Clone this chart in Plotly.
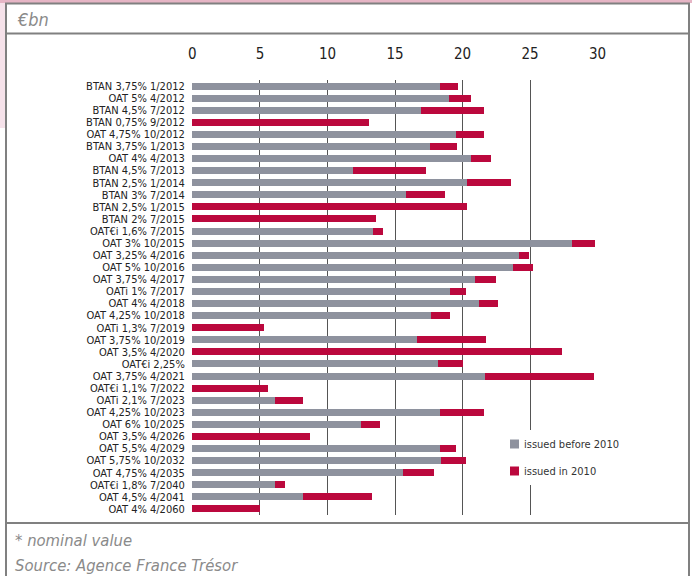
import plotly.graph_objects as go

# Outstanding bond lines, top to bottom
bonds = [
    "BTAN 3,75% 1/2012", "OAT 5% 4/2012", "BTAN 4,5% 7/2012", "BTAN 0,75% 9/2012",
    "OAT 4,75% 10/2012", "BTAN 3,75% 1/2013", "OAT 4% 4/2013", "BTAN 4,5% 7/2013",
    "BTAN 2,5% 1/2014", "BTAN 3% 7/2014", "BTAN 2,5% 1/2015", "BTAN 2% 7/2015",
    "OAT€i 1,6% 7/2015", "OAT 3% 10/2015", "OAT 3,25% 4/2016", "OAT 5% 10/2016",
    "OAT 3,75% 4/2017", "OATi 1% 7/2017", "OAT 4% 4/2018", "OAT 4,25% 10/2018",
    "OATi 1,3% 7/2019", "OAT 3,75% 10/2019", "OAT 3,5% 4/2020", "OAT€i 2,25%",
    "OAT 3,75% 4/2021", "OAT€i 1,1% 7/2022", "OATi 2,1% 7/2023", "OAT 4,25% 10/2023",
    "OAT 6% 10/2025", "OAT 3,5% 4/2026", "OAT 5,5% 4/2029", "OAT 5,75% 10/2032",
    "OAT 4,75% 4/2035", "OAT€i 1,8% 7/2040", "OAT 4,5% 4/2041", "OAT 4% 4/2060",
]

# Nominal amount issued before 2010 (€bn)
issued_before_2010 = [
    18.3, 19.0, 16.9, 0.0,
    19.5, 17.6, 20.6, 11.9,
    20.3, 15.8, 0.0, 0.0,
    13.4, 28.1, 24.2, 23.7,
    20.9, 19.1, 21.2, 17.7,
    0.0, 16.6, 0.0, 18.2,
    21.7, 0.0, 6.1, 18.3,
    12.5, 0.0, 18.3, 18.4,
    15.6, 6.1, 8.2, 0.0,
]

# Nominal amount issued in 2010 (€bn)
issued_in_2010 = [
    1.4, 1.6, 4.7, 13.1,
    2.1, 2.0, 1.5, 5.4,
    3.3, 2.9, 20.3, 13.6,
    0.7, 1.7, 0.7, 1.5,
    1.55, 1.15, 1.4, 1.4,
    5.3, 5.15, 27.4, 1.85,
    8.0, 5.6, 2.1, 3.3,
    1.4, 8.7, 1.25, 1.85,
    2.3, 0.75, 5.1, 5.0,
]

series_names = ["issued before 2010", "issued in 2010"]
x_ticks = [0, 5, 10, 15, 20, 25, 30]

GREY = "#8e929e"
RED = "#bb083d"
FRAME = "#808080"
COND = "DejaVu Sans Condensed, DejaVu Sans, sans-serif"

W, H = 692, 576
L, R, T, B = 192, 94, 80, 61
PW, PH = W - L - R, H - T - B


def px(x):
    return (x - L) / PW


def py(y):
    return (H - B - y) / PH


fig = go.Figure()
for vals, name, col in ((issued_before_2010, series_names[0], GREY),
                        (issued_in_2010, series_names[1], RED)):
    fig.add_trace(go.Bar(
        y=bonds, x=vals, orientation="h",
        marker=dict(color=col, line=dict(width=0)),
        name=name, showlegend=False,
    ))

# frame around the panels
shapes = [
    dict(type="rect", xref="paper", yref="paper", x0=px(0), x1=px(W), y0=py(0), y1=py(3),
         fillcolor="#e6b5c5", line=dict(width=0), layer="below"),
    dict(type="rect", xref="paper", yref="paper", x0=px(0), x1=px(5), y0=py(3), y1=py(128),
         fillcolor="#f6e2ea", line=dict(width=0), layer="below"),
]
for y in (3.5, 33.5, 523):
    shapes.append(dict(type="line", xref="paper", yref="paper", x0=px(5), x1=px(690),
                       y0=py(y), y1=py(y), line=dict(color=FRAME, width=2)))
for x in (6, 689):
    shapes.append(dict(type="line", xref="paper", yref="paper", x0=px(x), x1=px(x),
                       y0=py(3), y1=py(H + 2), line=dict(color=FRAME, width=2)))

# legend block: white panel over the grid, swatches and labels
shapes.append(dict(type="rect", xref="paper", yref="paper", x0=px(503), x1=px(640),
                   y0=py(430), y1=py(485), fillcolor="white", line=dict(width=0),
                   layer="above"))
annotations = []
for i, (name, col) in enumerate(zip(series_names, (GREY, RED))):
    cy = 444 + 27 * i
    shapes.append(dict(type="rect", xref="paper", yref="paper", x0=px(510), x1=px(519),
                       y0=py(cy + 4.5), y1=py(cy - 4.5), fillcolor=col,
                       line=dict(width=0), layer="above"))
    annotations.append(dict(text=name, x=px(522), y=py(cy), xref="paper", yref="paper",
                            xanchor="left", yanchor="middle", showarrow=False,
                            font=dict(family=COND, size=11, color="#333333")))

for text, x, y, size in (("€bn", 15, 19, 18), ("* nominal value", 13, 540, 16.5),
                         ("Source: Agence France Trésor", 13, 565, 16.5)):
    annotations.append(dict(text=text, x=px(x), y=py(y), xref="paper", yref="paper",
                            xanchor="left", yanchor="middle", showarrow=False,
                            font=dict(family=COND, size=size, color="#8a8a8a",
                                      style="italic")))

fig.update_layout(
    width=W, height=H,
    margin=dict(l=L, r=R, t=T, b=B),
    paper_bgcolor="white", plot_bgcolor="white",
    barmode="stack", bargap=0.42,
    shapes=shapes, annotations=annotations,
    showlegend=False,
    xaxis=dict(
        side="top", range=[-0.03, 30.03], tickvals=x_ticks,
        showgrid=True, gridcolor="#555555", gridwidth=1, zeroline=False,
        showline=False, ticks="outside", ticklen=14, tickcolor="rgba(0,0,0,0)",
        tickfont=dict(family=COND, size=15, color="#222222"),
        fixedrange=True,
    ),
    yaxis=dict(
        autorange="reversed", showgrid=False, zeroline=False, showline=False,
        tickmode="array", tickvals=bonds, ticktext=bonds,
        ticks="outside", ticklen=4, tickcolor="rgba(0,0,0,0)",
        tickfont=dict(family=COND, size=11, color="#222222"),
        fixedrange=True,
    ),
)

fig.write_html("out.html")
